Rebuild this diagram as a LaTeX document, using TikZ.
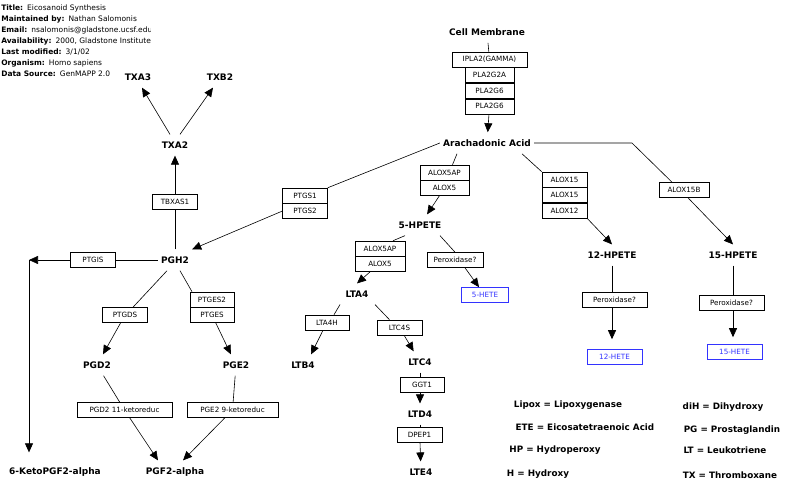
\documentclass[tikz,border=0pt]{standalone}
\usepackage{fontspec}
\setmainfont{DejaVu Sans}
\usetikzlibrary{positioning,arrows.meta}
\definecolor{hetecol}{RGB}{51,51,255}
\tikzset{
  mol/.style={font=\fontsize{9}{10}\selectfont\bfseries, inner xsep=3pt, inner ysep=7pt},
  gene/.style={draw, line width=0.6pt, font=\fontsize{7.2}{8}\selectfont, minimum width=45pt, minimum height=15pt, inner sep=1pt},
  hete/.style={gene, draw=hetecol, text=hetecol},
  legend/.style={font=\fontsize{8.8}{9}\selectfont\bfseries},
  info/.style={font=\fontsize{7.5}{8}\selectfont, anchor=west, inner sep=0pt},
}
\begin{document}
\begin{tikzpicture}[x=1pt, y=-1pt, line width=0.6pt, >={Triangle[length=9pt,width=8pt]}]
	\useasboundingbox (0,0) rectangle (800,493);
	
	% 1. Header (cut off at the right like the original)
	\begin{scope}
		\clip (0,0) rectangle (150,80);
		\node[info] (title) at (1,8) {\textbf{Title:}\hspace{4pt}Eicosanoid Synthesis};
		\node[info] (maint) at (1,19) {\textbf{Maintained by:}\hspace{4pt}Nathan Salomonis};
		\node[info] (email) at (1,30) {\textbf{Email:}\hspace{4pt}nsalomonis@gladstone.ucsf.edu};
		\node[info] (avail) at (1,41) {\textbf{Availability:}\hspace{4pt}2000, Gladstone Institute};
		\node[info] (modif) at (1,52) {\textbf{Last modified:}\hspace{4pt}3/1/02};
		\node[info] (organ) at (1,63) {\textbf{Organism:}\hspace{4pt}Homo sapiens};
		\node[info] (source) at (1,74) {\textbf{Data Source:}\hspace{4pt}GenMAPP 2.0};
	\end{scope}
	
	% 2. Metabolites
	\node[mol] (cm) at (487,32) {Cell Membrane};
	\node[mol] (aa) at (487,143) {Arachadonic Acid};
	\node[mol] (txa3) at (138,77) {TXA3};
	\node[mol] (txb2) at (220,77) {TXB2};
	\node[mol] (txa2) at (175,145) {TXA2};
	\node[mol] (pgh2) at (175,260) {PGH2};
	\node[mol] (pgd2) at (97,365) {PGD2};
	\node[mol] (pge2) at (236,365) {PGE2};
	\node[mol] (keto) at (55,472) {6-KetoPGF2-alpha};
	\node[mol] (pgf2) at (175,472) {PGF2-alpha};
	\node[mol] (hpete5) at (420,225) {5-HPETE};
	\node[mol] (lta4) at (357,294) {LTA4};
	\node[mol] (ltb4) at (303,365) {LTB4};
	\node[mol] (ltc4) at (420,362) {LTC4};
	\node[mol] (ltd4) at (420,414) {LTD4};
	\node[mol] (lte4) at (421,472) {LTE4};
	\node[mol] (hpete12) at (612,255) {12-HPETE};
	\node[mol] (hpete15) at (733,255) {15-HPETE};
	
	% 3. Enzymes
	\node[gene, minimum width=75pt] (ipla) at (489.5,59.5) {IPLA2(GAMMA)};
	\node[gene, minimum width=49pt, below=0pt of ipla] (pla2a) {PLA2G2A};
	\node[gene, minimum width=49pt, below=0pt of pla2a] (pla2b) {PLA2G6};
	\node[gene, minimum width=49pt, below=0pt of pla2b] (pla2c) {PLA2G6};
	
	\node[gene] (ptgs1) at (305,195.5) {PTGS1};
	\node[gene, below=0pt of ptgs1] (ptgs2) {PTGS2};
	\node[gene] (tbxas1) at (175,202) {TBXAS1};
	\node[gene] (ptgis) at (93,260) {PTGIS};
	\node[gene] (ptgds) at (125,315) {PTGDS};
	\node[gene, minimum width=44pt] (ptges2) at (212,299.5) {PTGES2};
	\node[gene, minimum width=44pt, below=0pt of ptges2] (ptges) {PTGES};
	\node[gene, minimum width=95pt] (pgd2red) at (124.5,410) {PGD2 11-ketoreduc};
	\node[gene, minimum width=91pt] (pge2red) at (232.5,410) {PGE2 9-ketoreduc};
	
	\node[gene, minimum width=49pt] (alox5apA) at (444.5,172.5) {ALOX5AP};
	\node[gene, minimum width=49pt, below=0pt of alox5apA] (alox5A) {ALOX5};
	\node[gene, minimum width=50pt] (alox5apB) at (380,248.5) {ALOX5AP};
	\node[gene, minimum width=50pt, below=0pt of alox5apB] (alox5B) {ALOX5};
	\node[gene] (alox15a) at (564.5,179.5) {ALOX15};
	\node[gene, below=0pt of alox15a] (alox15b) {ALOX15};
	\node[gene, below=0pt of alox15b] (alox12) {ALOX12};
	\node[gene, minimum width=50pt] (alox15bb) at (684,190) {ALOX15B};
	
	\node[gene, minimum width=56pt] (perox5) at (455,260) {Peroxidase?};
	\node[hete, minimum width=47pt] (hete5) at (485,295) {5-HETE};
	\node[gene, minimum width=44pt] (lta4h) at (327,322.5) {LTA4H};
	\node[gene] (ltc4s) at (399.5,327.5) {LTC4S};
	\node[gene, minimum width=44pt] (ggt1) at (422,385) {GGT1};
	\node[gene] (dpep1) at (419.5,434.5) {DPEP1};
	\node[gene, minimum width=65pt] (perox12) at (614.5,300) {Peroxidase?};
	\node[hete, minimum width=55pt] (hete12) at (614.5,357) {12-HETE};
	\node[gene, minimum width=65pt] (perox15) at (731.5,302.5) {Peroxidase?};
	\node[hete, minimum width=55pt] (hete15) at (734.5,352) {15-HETE};
	
	\coordinate (kcorner) at (29,260);
	\coordinate (aabend) at (632,143);
	
	% 4. Connectors
	\draw (cm) -- (ipla);
	\draw[->] (pla2c) -- (aa);
	
	% prostaglandin branch
	\draw (aa.west) -- (ptgs1.north east);
	\draw[->] (ptgs2.west) -- (pgh2.north east);
	\draw (pgh2) -- (tbxas1);
	\draw[->] (tbxas1) -- (txa2);
	\draw[->] ([xshift=-5pt]txa2.north) -- ([xshift=4pt]txa3.south);
	\draw[->] ([xshift=5pt]txa2.north) -- ([xshift=-7pt]txb2.south);
	\draw (pgh2) -- (ptgis);
	\draw[->] (ptgis) -- (kcorner);
	\draw[->] (kcorner) -- ([yshift=8pt]kcorner |- keto.north);
	\draw ([xshift=-8pt]pgh2.south) -- ([xshift=8pt]ptgds.north);
	\draw[->] (ptgds) -- (pgd2);
	\draw ([xshift=5pt]pgh2.south) -- ([xshift=-20pt]ptges2.north);
	\draw[->] (ptges) -- (pge2);
	\draw (pgd2) -- (pgd2red);
	\draw[->] (pgd2red) -- ([xshift=-17pt]pgf2.north);
	\draw (pge2) -- (pge2red);
	\draw[->] (pge2red) -- ([xshift=8pt]pgf2.north);
	
	% leukotriene branch
	\draw ([xshift=-30pt]aa.south) -- ([xshift=8pt]alox5apA.north);
	\draw[->] (alox5A) -- (hpete5);
	\draw ([xshift=-15pt]hpete5.south) -- ([xshift=13pt]alox5apB.north);
	\draw[->] ([xshift=-10pt]alox5B.south) -- (lta4.north);
	\draw ([xshift=20pt]hpete5.south) -- (perox5.north);
	\draw[->] ([xshift=10pt]perox5.south) -- ([xshift=-6pt]hete5.north);
	\draw ([xshift=-17pt]lta4.south) -- ([xshift=7pt]lta4h.north);
	\draw[->] ([xshift=-4pt]lta4h.south) -- ([xshift=8pt]ltb4.north);
	\draw ([xshift=18pt]lta4.south) -- ([xshift=-10pt]ltc4s.north);
	\draw[->] (ltc4s) -- (ltc4);
	\draw (ltc4) -- (ltc4 |- ggt1.north);
	\draw[->] (ltc4 |- ggt1.south) -- (ltd4);
	\draw (ltd4) -- (ltd4 |- dpep1.north);
	\draw[->] (ltd4 |- dpep1.south) -- (lte4);
	
	% 12- and 15-lipoxygenase
	\draw ([xshift=35pt]aa.south) -- (alox15a.north west);
	\draw[->] (alox12.south east) -- (hpete12.north);
	\draw (aa.east) -- (aabend) -- ([xshift=-12pt]alox15bb.north);
	\draw[->] ([xshift=4pt]alox15bb.south) -- (hpete15.north);
	\draw (hpete12) -- (hpete12 |- perox12.north);
	\draw[->, shorten >=10pt] (hpete12 |- perox12.south) -- (hpete12 |- hete12.north);
	\draw (hpete15) -- (hpete15 |- perox15.north);
	\draw[->, shorten >=7pt] (hpete15 |- perox15.south) -- (hpete15 |- hete15.north);
	
	% 5. Abbreviations
	\node[legend] (lg1) at (568,405) {Lipox = Lipoxygenase};
	\node[legend] (lg2) at (585,427) {ETE = Eicosatetraenoic Acid};
	\node[legend] (lg3) at (555,450) {HP = Hydroperoxy};
	\node[legend] (lg4) at (538,474) {H = Hydroxy};
	\node[legend] (lg5) at (723,407) {diH = Dihydroxy};
	\node[legend] (lg6) at (732,430) {PG = Prostaglandin};
	\node[legend] (lg7) at (725,450) {LT = Leukotriene};
	\node[legend] (lg8) at (730,475) {TX = Thromboxane};
\end{tikzpicture}
\end{document}
